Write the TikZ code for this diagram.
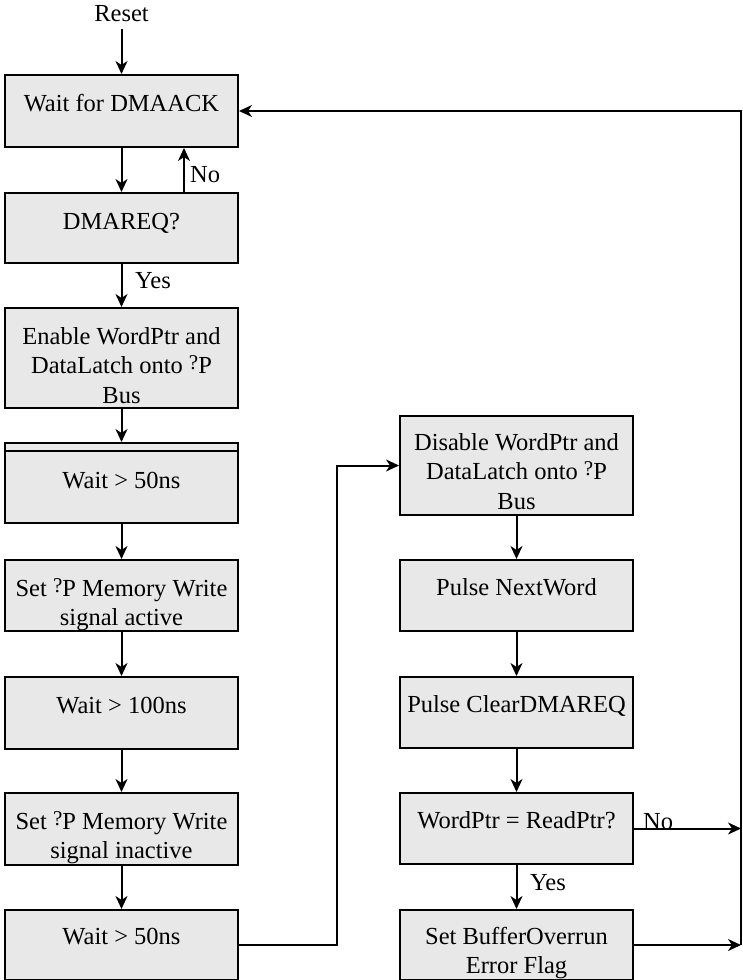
\documentclass[tikz,border=0pt]{standalone}
\usepackage{fontspec}
\setmainfont{Liberation Serif}
\usetikzlibrary{arrows.meta,calc}
\definecolor{boxgray}{RGB}{232,232,232}
% small raised question mark standing for the micro sign
\newcommand{\mup}{\raisebox{4pt}{\fontsize{21}{21}\selectfont ?}}
% fixed first-line height so every label sits the same way in its box
\newcommand{\lineup}{\rule{0pt}{18pt}}

\begin{document}
\begin{tikzpicture}[x=1pt,y=-1pt,
  box/.style={draw, line width=2pt, fill=boxgray, minimum width=233pt,
              inner sep=0pt, anchor=north},
  txt/.style={anchor=north, inner sep=0pt, align=center,
              font=\fontsize{24.5}{29.5}\selectfont},
  lab/.style={anchor=base west, inner sep=0pt,
              font=\fontsize{24.5}{29.5}\selectfont},
  flow/.style={line width=2pt, -{Stealth[length=13pt,width=12pt,inset=4pt]}}]

\useasboundingbox (0,0) rectangle (743,980);

% ---- left column ----
\node[box, minimum height=72pt]  (L1) at (121.5,74)  {};
\node[box, minimum height=70pt]  (L2) at (121.5,192) {};
\node[box, minimum height=100pt] (L3) at (121.5,307) {};
\node[box, minimum height=80pt]  (L4) at (121.5,442) {};
\node[box, minimum height=71pt]  (L5) at (121.5,559) {};
\node[box, minimum height=72pt]  (L6) at (121.5,676) {};
\node[box, minimum height=72pt]  (L7) at (121.5,792) {};
\node[box, minimum height=70pt]  (L8) at (121.5,909) {};
\draw[line width=2pt] ($(L4.north west)+(0,9)$) -- ($(L4.north east)+(0,9)$);

\node[txt] (tL1) at ($(L1.north)+(0,19)$) {\lineup Wait for DMAACK};
\node[txt] (tL2) at ($(L2.north)+(0,19)$) {\lineup DMAREQ?};
\node[txt] (tL3) at ($(L3.north)+(0,19)$) {\lineup Enable WordPtr and\\DataLatch onto \mup P\\Bus};
\node[txt] (tL4) at ($(L4.north)+(0,28)$) {\lineup Wait > 50ns};
\node[txt] (tL5) at ($(L5.north)+(0,19)$) {\lineup Set \mup P Memory Write\\signal active};
\node[txt] (tL6) at ($(L6.north)+(0,19)$) {\lineup Wait > 100ns};
\node[txt] (tL7) at ($(L7.north)+(0,19)$) {\lineup Set \mup P Memory Write\\signal inactive};
\node[txt] (tL8) at ($(L8.north)+(0,17)$) {\lineup Wait > 50ns};

% ---- right column ----
\node[box, minimum height=99pt] (R1) at (516.5,415) {};
\node[box, minimum height=71pt] (R2) at (516.5,559) {};
\node[box, minimum height=71pt] (R3) at (516.5,676) {};
\node[box, minimum height=71pt] (R4) at (516.5,792) {};
\node[box, minimum height=70pt] (R5) at (516.5,909) {};

\node[txt] (tR1) at ($(R1.north)+(0,17)$) {\lineup Disable WordPtr and\\DataLatch onto \mup P\\Bus};
\node[txt] (tR2) at ($(R2.north)+(0,18)$) {\lineup Pulse NextWord};
\node[txt] (tR3) at ($(R3.north)+(0,18)$) {\lineup Pulse ClearDMAREQ};
\node[txt] (tR4) at ($(R4.north)+(0,18)$) {\lineup WordPtr = ReadPtr?};
\node[txt] (tR5) at ($(R5.north)+(0,17)$) {\lineup Set BufferOverrun\\Error Flag};

% ---- entry ----
\node[lab, anchor=base] (reset) at (121.5,21) {Reset};
\draw[flow, shorten <=8pt] (reset.south) -- (L1.north);

% ---- left column flow ----
\coordinate (nox) at (184,0);
\draw[flow] (L1.south) -- (L2.north);
\draw[flow] (L2.north -| nox) -- (L1.south -| nox);
\node[lab] (no1) at (190,182) {No};
\draw[flow] (L2.south) -- (L3.north);
\node[lab] (yes1) at (135,288) {Yes};
\draw[flow] (L3.south) -- (L4.north);
\draw[flow] (L4.south) -- (L5.north);
\draw[flow] (L5.south) -- (L6.north);
\draw[flow] (L6.south) -- (L7.north);
\draw[flow] (L7.south) -- (L8.north);

% ---- crossover to the right column ----
\coordinate (jog) at (337,0);
\draw[flow] (L8.east) -- (L8.east -| jog) -- (R1.west -| jog) -- (R1.west);

% ---- right column flow ----
\draw[flow] (R1.south) -- (R2.north);
\draw[flow] (R2.south) -- (R3.north);
\draw[flow] (R3.south) -- (R4.north);
\draw[flow] (R4.south) -- (R5.north);
\node[lab] (yes2) at (530,890) {Yes};

% ---- return rail ----
\coordinate (rail) at (741,0);
\draw[flow] (R4.east) -- (R4.east -| rail);
\node[lab] (no2) at (643,829) {No};
\draw[flow] (R5.east) -- (R5.east -| rail);
\draw[flow] (R5.east -| rail) -- (L1.east -| rail) -- (L1.east);

\end{tikzpicture}
\end{document}
